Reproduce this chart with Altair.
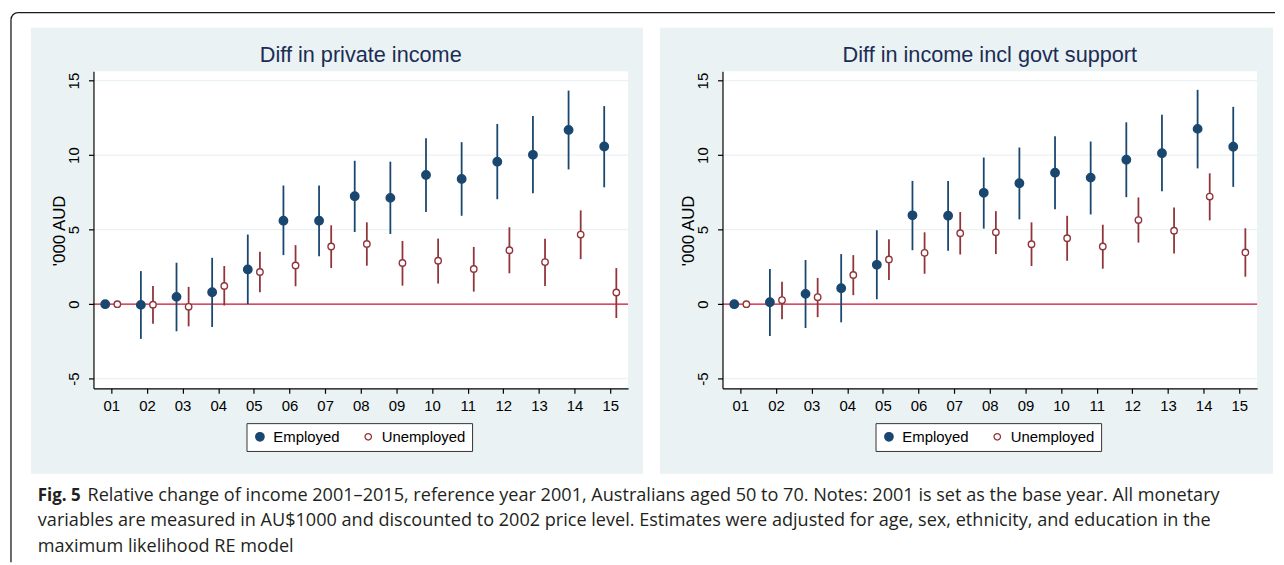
import json
import altair as alt
import pandas as pd

# ---------------- data ----------------
years = list(range(1, 16))
year_labels = ["01", "02", "03", "04", "05", "06", "07", "08", "09", "10", "11", "12", "13", "14", "15"]
series_names = ["Employed", "Unemployed"]
panel_titles = ["Diff in private income", "Diff in income incl govt support"]
y_ticks = [-5, 0, 5, 10, 15]
grid_values = [-5, 5, 10, 15]
zero_line = [0]

# Panel 1: private income
emp_private = [0, -0.05, 0.49, 0.8, 2.33, 5.6, 5.6, 7.24, 7.13, 8.67, 8.4, 9.56, 10.02, 11.69, 10.58]
emp_private_lo = [0, -2.33, -1.82, -1.53, 0.0, 3.29, 3.22, 4.84, 4.71, 6.18, 5.93, 7.04, 7.44, 9.04, 7.84]
emp_private_hi = [0, 2.22, 2.78, 3.11, 4.67, 7.96, 7.96, 9.62, 9.56, 11.13, 10.87, 12.09, 12.62, 14.33, 13.29]
unemp_private = [0, -0.04, -0.18, 1.22, 2.16, 2.6, 3.87, 4.04, 2.76, 2.91, 2.36, 3.62, 2.82, 4.67, 0.78]
unemp_private_lo = [0, -1.31, -1.49, -0.09, 0.8, 1.2, 2.42, 2.58, 1.24, 1.38, 0.84, 2.07, 1.22, 3.02, -0.93]
unemp_private_hi = [0, 1.22, 1.16, 2.56, 3.51, 3.96, 5.29, 5.49, 4.24, 4.4, 3.84, 5.16, 4.38, 6.29, 2.42]

# Panel 2: income incl govt support
emp_govt = [0, 0.13, 0.69, 1.07, 2.64, 5.96, 5.93, 7.47, 8.11, 8.82, 8.49, 9.69, 10.13, 11.76, 10.56]
emp_govt_lo = [0, -2.13, -1.6, -1.22, 0.33, 3.62, 3.58, 5.07, 5.69, 6.36, 6.02, 7.18, 7.58, 9.11, 7.87]
emp_govt_hi = [0, 2.36, 2.96, 3.36, 4.96, 8.27, 8.27, 9.84, 10.51, 11.27, 10.91, 12.2, 12.71, 14.38, 13.24]
unemp_govt = [0, 0.27, 0.47, 1.96, 3.0, 3.44, 4.76, 4.82, 4.02, 4.42, 3.87, 5.64, 4.93, 7.22, 3.47]
unemp_govt_lo = [0, -1.02, -0.87, 0.6, 1.62, 2.04, 3.33, 3.36, 2.56, 2.91, 2.38, 4.13, 3.4, 5.62, 1.84]
unemp_govt_hi = [0, 1.51, 1.76, 3.29, 4.36, 4.82, 6.18, 6.24, 5.49, 5.93, 5.33, 7.16, 6.49, 8.78, 5.09]

caption_bold = "Fig. 5"
caption_lines = [
    "Relative change of income 2001\u20132015, reference year 2001, Australians aged 50 to 70. Notes: 2001 is set as the base year. All monetary",
    "variables are measured in AU$1000 and discounted to 2002 price level. Estimates were adjusted for age, sex, ethnicity, and education in the",
    "maximum likelihood RE model",
]

# ---------------- style ----------------
NAVY = "#1a476f"
MAROON = "#90353b"
BG = "#eaf2f3"
GRID = "#eaf2f3"
ZERO = "#c8102e"
TITLE_COLOR = "#1c2d55"
FRAME = "#1a1a1a"
FONT = "Liberation Sans, Arial, sans-serif"
CAP_FONT = "Open Sans"
W, H = 538, 319
OFFSET = 0.17


def table(emp, emp_lo, emp_hi, un, un_lo, un_hi):
    rows = []
    for i, yr in enumerate(years):
        rows.append({"year": yr, "series": series_names[0], "est": emp[i], "lo": emp_lo[i], "hi": emp_hi[i]})
        rows.append({"year": yr, "series": series_names[1], "est": un[i], "lo": un_lo[i], "hi": un_hi[i]})
    return pd.DataFrame(rows)


x_scale = alt.Scale(domain=[0.5, 15.5], nice=False, zero=False)
y_scale = alt.Scale(domain=[-5.65, 15.62], nice=False, zero=False)

x_axis = alt.Axis(
    values=years, labelExpr=f"{json.dumps(year_labels)}[datum.value - 1]", title=None, grid=False,
    tickSize=5, labelPadding=5, labelFontSize=15, labelFont=FONT, labelColor="black",
    domainColor="black", tickColor="black", domainWidth=1.2, tickWidth=1.2, zindex=1,
    labelFlush=False, labelOverlap=False,
)
y_axis = alt.Axis(
    values=y_ticks, labelExpr="'' + datum.value", title="'000 AUD", grid=False, labelAngle=270,
    labelAlign="center", labelBaseline="alphabetic", labelPadding=10, tickSize=5, labelFontSize=15,
    labelFont=FONT, labelColor="black", domainColor="black", tickColor="black", domainWidth=1.2,
    tickWidth=1.2, titleX=-29.5, titleY=160, titleAngle=270, titleAlign="center",
    titleBaseline="alphabetic", titleFontSize=17, titleFontWeight="normal", titleFont=FONT,
    titleColor="black", zindex=1, labelFlush=False, labelOverlap=False,
)

color_scale = alt.Scale(domain=series_names, range=[NAVY, MAROON])
fill_scale = alt.Scale(domain=series_names, range=[NAVY, "white"])
size_scale = alt.Scale(domain=series_names, range=[72, 42])


def legend():
    return alt.Legend(
        orient="none", legendX=154, legendY=354, direction="horizontal", title=None,
        strokeColor="#333333", fillColor="white", padding=6, symbolSize=34, symbolStrokeWidth=1.3,
        symbolType="circle", labelFontSize=15, labelFont=FONT, labelColor="black", labelOffset=6,
        columnPadding=21, zindex=1,
    )


one = alt.Data(values=[{"k": 1}])


def panel(df, title, bg_x2, extra=()):
    bg = alt.Chart(one).mark_rect(color=BG).encode(
        x=alt.value(-63), x2=alt.value(bg_x2), y=alt.value(-44), y2=alt.value(405))
    white = alt.Chart(one).mark_rect(color="white").encode(
        x=alt.value(0), x2=alt.value(W), y=alt.value(0), y2=alt.value(H))
    grid = alt.Chart(pd.DataFrame({"g": grid_values})).mark_rule(color=GRID, strokeWidth=1.2).encode(
        y=alt.Y("g:Q", scale=y_scale, axis=y_axis))
    zero = alt.Chart(pd.DataFrame({"z": zero_line})).mark_rule(color=ZERO, strokeWidth=1.4).encode(
        y=alt.Y("z:Q", scale=y_scale, axis=y_axis))
    base = alt.Chart(df).transform_calculate(
        xpos=f"datum.year + (datum.series == '{series_names[0]}' ? {-OFFSET} : {OFFSET})")
    bars = base.mark_rule(strokeWidth=1.8).encode(
        x=alt.X("xpos:Q", scale=x_scale, axis=x_axis),
        y=alt.Y("lo:Q", scale=y_scale, axis=y_axis),
        y2="hi:Q",
        color=alt.Color("series:N", scale=color_scale, legend=legend()),
    )
    pts = base.mark_point(strokeWidth=1.4, opacity=1).encode(
        x=alt.X("xpos:Q", scale=x_scale, axis=x_axis),
        y=alt.Y("est:Q", scale=y_scale, axis=y_axis),
        color=alt.Color("series:N", scale=color_scale, legend=legend()),
        fill=alt.Fill("series:N", scale=fill_scale, legend=legend()),
        size=alt.Size("series:N", scale=size_scale, legend=None),
    )
    ttl = alt.Chart(one).mark_text(
        text=title, font=FONT, fontSize=21.8, color=TITLE_COLOR, align="center", baseline="alphabetic"
    ).encode(x=alt.value(W / 2), y=alt.value(-9.5))
    layers = [bg, white, grid, zero, bars, pts, ttl] + list(extra)
    return alt.layer(*layers).properties(width=W, height=H)


# decorations of the figure (frame + caption), positioned relative to the left panel
frame_top = alt.Chart(one).mark_rule(color=FRAME, strokeWidth=1.3).encode(
    x=alt.value(-76), x2=alt.value(1189), y=alt.value(-59))
frame_left = alt.Chart(one).mark_rule(color=FRAME, strokeWidth=1.3).encode(
    x=alt.value(-83), y=alt.value(-52), y2=alt.value(494))
frame_corner = alt.Chart(one).mark_arc(
    radius=7.65, radius2=6.35, theta=4.712389, theta2=6.283185, color=FRAME
).encode(x=alt.value(-76), y=alt.value(-52))
cap_bold = alt.Chart(one).mark_text(
    text=caption_bold, font=CAP_FONT, fontSize=17, fontWeight="bold", color="#231f20",
    align="left", baseline="alphabetic").encode(x=alt.value(-56), y=alt.value(432))
cap_texts = []
cap_x = [-6, -56, -56]
cap_y = [432, 458, 484]
for i, line in enumerate(caption_lines):
    cap_texts.append(alt.Chart(one).mark_text(
        text=line, font=CAP_FONT, fontSize=18.2, color="#231f20", align="left", baseline="alphabetic"
    ).encode(x=alt.value(cap_x[i]), y=alt.value(cap_y[i])))

left = panel(table(emp_private, emp_private_lo, emp_private_hi, unemp_private, unemp_private_lo, unemp_private_hi),
             panel_titles[0], 553, [frame_top, frame_left, frame_corner, cap_bold] + cap_texts)
right = panel(table(emp_govt, emp_govt_lo, emp_govt_hi, unemp_govt, unemp_govt_lo, unemp_govt_hi),
              panel_titles[1], 554)

chart = alt.hconcat(left, right, spacing=95, bounds="flush").resolve_scale(
    color="independent", fill="independent", size="independent"
).properties(
    padding={"left": 2, "top": 2, "right": 0, "bottom": 0}
).configure_view(strokeWidth=0)

chart.save("out.html", embed_options={"renderer": "svg", "actions": False})
